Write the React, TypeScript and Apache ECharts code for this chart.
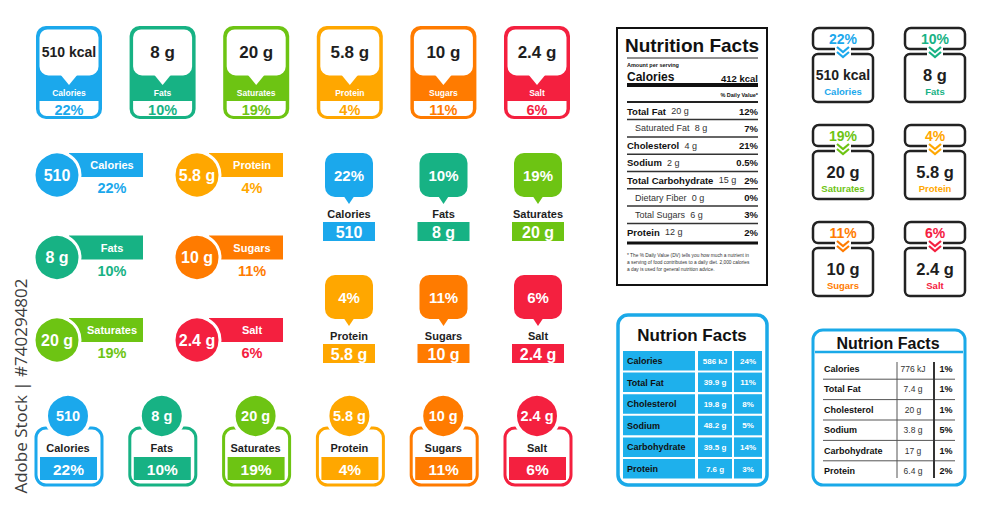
import React, { useEffect, useRef } from "react";
import * as echarts from "echarts";

const NUTRIENTS = ["Calories", "Fats", "Saturates", "Protein", "Sugars", "Salt"];
const AMOUNTS = ["510 kcal", "8 g", "20 g", "5.8 g", "10 g", "2.4 g"];
const SHORT_AMOUNTS = ["510", "8 g", "20 g", "5.8 g", "10 g", "2.4 g"];
const PERCENTS = ["22%", "10%", "19%", "4%", "11%", "6%"];
const PALETTE = ["#1ba8ec", "#17b284", "#6dc413", "#ffa700", "#ff7b00", "#f4203f"];

const NF_TITLE = "Nutrition Facts";
const NF_SERVING = "Amount per serving";
const NF_CAL_LABEL = "Calories";
const NF_CALORIES = "412 kcal";
const NF_DV_HEAD = "% Daily Value*";
const NF_NAMES = ["Total Fat", "Saturated Fat", "Cholesterol", "Sodium", "Total Carbohydrate", "Dietary Fiber", "Total Sugars", "Protein"];
const NF_AMOUNTS = ["20 g", "8 g", "4 g", "2 g", "15 g", "0 g", "6 g", "12 g"];
const NF_DV = ["12%", "7%", "21%", "0.5%", "2%", "0%", "3%", "2%"];
const NF_SUB = [false, true, false, false, false, true, true, false];
const NF_NOTE = [
  "* The % Daily Value (DV) tells you how much a nutrient in",
  "a serving of food contributes to a daily diet. 2,000 calories",
  "a day is used for general nutrition advice.",
];

const TABLE_TITLE = "Nutrion Facts";
const TABLE_NAMES = ["Calories", "Total Fat", "Cholesterol", "Sodium", "Carbohydrate", "Protein"];
const BLUE_AMOUNTS = ["586 kJ", "39.9 g", "19.8 g", "48.2 g", "39.5 g", "7.6 g"];
const BLUE_DV = ["24%", "11%", "8%", "5%", "14%", "3%"];
const LINED_AMOUNTS = ["776 kJ", "7.4 g", "20 g", "3.8 g", "17 g", "6.4 g"];
const LINED_DV = ["1%", "1%", "1%", "5%", "1%", "2%"];

const WATERMARK = "Adobe Stock | #740294802";

const FONT = '"Liberation Sans", Arial, Helvetica, sans-serif';
const DARK = "#1e1e1e";
const BLUE = "#1aa9e8";
const WHITE = "#ffffff";

function T(x: number, y: number, text: string, size: number, fill: string, opts: any = {}) {
  const align = opts.align || "center";
  const style: any = {
    text,
    fill,
    fontSize: size,
    fontWeight: opts.weight || "bold",
    fontFamily: opts.family || FONT,
    align,
    textAlign: align,
    verticalAlign: "middle",
    textVerticalAlign: "middle",
  };
  if (opts.lineHeight) style.lineHeight = opts.lineHeight;
  if (opts.rich) style.rich = opts.rich;
  return { type: "text", x, y, silent: true, rotation: opts.rotation || 0, z: 10, style };
}

function R(x: number, y: number, w: number, h: number, fill: string | null, r: any = 0, stroke?: string, lw?: number) {
  const style: any = { fill: fill === null ? "none" : fill };
  if (stroke) {
    style.stroke = stroke;
    style.lineWidth = lw || 1;
  }
  return { type: "rect", silent: true, z: 1, shape: { x, y, width: w, height: h, r }, style };
}

function C(cx: number, cy: number, r: number, fill: string, stroke?: string, lw?: number) {
  const style: any = { fill };
  if (stroke) {
    style.stroke = stroke;
    style.lineWidth = lw || 1;
  }
  return { type: "circle", silent: true, z: 1, shape: { cx, cy, r }, style };
}

function L(x1: number, y1: number, x2: number, y2: number, stroke: string, lw: number) {
  return { type: "line", silent: true, z: 2, shape: { x1, y1, x2, y2 }, style: { stroke, lineWidth: lw } };
}

function P(points: number[][], fill: string) {
  return { type: "polygon", silent: true, z: 1, shape: { points }, style: { fill } };
}

function PL(points: number[][], stroke: string, lw: number) {
  return { type: "polyline", silent: true, z: 3, shape: { points }, style: { stroke, lineWidth: lw, fill: "none" } };
}

function buildElements() {
  const els: any[] = [];

  // Top row: label cards
  NUTRIENTS.forEach((name, i) => {
    const col = PALETTE[i];
    const x0 = 36 + i * 93.6;
    const cx = x0 + 33;
    els.push(R(x0, 26, 66, 93, col, 10));
    els.push(R(x0 + 3.5, 29.5, 59, 46, WHITE, [8, 8, 9, 9]));
    els.push(P([[cx - 9, 74], [cx + 9, 74], [cx, 85]], WHITE));
    els.push(T(cx, 52, AMOUNTS[i], AMOUNTS[i].length > 6 ? 14 : 17, DARK));
    els.push(T(cx, 93, name, 8.5, WHITE));
    els.push(R(x0 + 3.5, 101, 59, 15, WHITE, [0, 0, 7, 7]));
    els.push(T(cx, 109.5, PERCENTS[i], 14.5, col));
  });

  // Middle left: circles with banners
  NUTRIENTS.forEach((name, i) => {
    const col = PALETTE[i];
    const c = Math.floor(i / 3);
    const r = i % 3;
    const cx = 57 + c * 140;
    const cy = 175 + r * 82.5;
    els.push(R(cx + 12, cy - 22, 74, 24, col));
    els.push(C(cx, cy, 23, col, WHITE, 3));
    els.push(T(cx, cy, SHORT_AMOUNTS[i], 16, WHITE));
    els.push(T(cx + 55, cy - 10, name, 11, WHITE));
    els.push(T(cx + 55, cy + 13, PERCENTS[i], 14.5, col));
  });

  // Middle: speech bubbles
  NUTRIENTS.forEach((name, i) => {
    const col = PALETTE[i];
    const c = i % 3;
    const r = Math.floor(i / 3);
    const cx = 349 + c * 94.5;
    const top = 153 + r * 122;
    els.push(R(cx - 24, top, 48, 44, col, 10));
    els.push(P([[cx - 6, top + 42], [cx + 6, top + 42], [cx, top + 51]], col));
    els.push(T(cx, top + 22, PERCENTS[i], 15, WHITE));
    els.push(T(cx, top + 61, name, 11, DARK));
    els.push(R(cx - 26, top + 69, 52, 19, col));
    els.push(T(cx, top + 79, SHORT_AMOUNTS[i], 16, WHITE));
  });

  // Bottom row: circle over frame
  NUTRIENTS.forEach((name, i) => {
    const col = PALETTE[i];
    const cx = 68 + i * 93.8;
    els.push(R(cx - 32, 428, 66, 57, WHITE, 10, col, 3));
    els.push(C(cx, 416, 22, col, WHITE, 4));
    els.push(T(cx, 416, SHORT_AMOUNTS[i], 14.5, WHITE));
    els.push(T(cx, 448, name, 11, DARK));
    els.push(R(cx - 28, 457, 57, 23, col));
    els.push(T(cx + 0.5, 469, PERCENTS[i], 15.5, WHITE));
  });

  // Nutrition Facts (black)
  els.push(R(617, 28, 150, 257, WHITE, 0, "#111", 2));
  els.push(T(692, 45, NF_TITLE, 19, "#111", { weight: 900 }));
  els.push(L(627, 58, 758, 58, "#222", 1));
  els.push(T(627, 65, NF_SERVING, 5.5, "#111", { align: "left" }));
  els.push(T(627, 77, NF_CAL_LABEL, 12, "#111", { align: "left" }));
  els.push(T(758, 78, NF_CALORIES, 9.5, "#111", { align: "right" }));
  els.push(L(627, 85, 758, 85, "#111", 4));
  els.push(T(758, 95, NF_DV_HEAD, 5.5, "#111", { align: "right" }));
  els.push(L(627, 102, 758, 102, "#222", 2));
  NF_NAMES.forEach((name, k) => {
    const y = 111 + k * 17.3;
    const sub = NF_SUB[k];
    els.push(
      T(sub ? 635 : 627, y, `{${sub ? "s" : "b"}|${name}}  {n|${NF_AMOUNTS[k]}}`, 9.5, "#111", {
        align: "left",
        rich: {
          b: { fontWeight: "bold", fontSize: 9.5, fontFamily: FONT, fill: "#111" },
          s: { fontWeight: "normal", fontSize: 9, fontFamily: FONT, fill: "#333" },
          n: { fontWeight: "normal", fontSize: 9, fontFamily: FONT, fill: "#333" },
        },
      })
    );
    els.push(T(758, y, NF_DV[k], 9.5, "#111", { align: "right" }));
    if (k < NF_NAMES.length - 1) els.push(L(627, y + 8.6, 758, y + 8.6, "#333", 1.5));
  });
  els.push(L(627, 243, 758, 243, "#111", 3));
  NF_NOTE.forEach((line, k) => {
    els.push(T(627, 255 + k * 7, line, 4.8, "#333", { align: "left", weight: "normal" }));
  });

  // Right grid cards
  NUTRIENTS.forEach((name, i) => {
    const col = PALETTE[i];
    const c = i % 2;
    const r = Math.floor(i / 2);
    const x0 = 813 + c * 92;
    const y0 = 28 + r * 97;
    const cx = x0 + 30;
    els.push(R(x0, y0, 60, 21, WHITE, [6, 6, 5, 5], "#222", 2.5));
    els.push(R(x0, y0 + 26, 60, 48, WHITE, 5, "#222", 2.5));
    els.push({ ...R(cx - 8, y0 + 17, 16, 13, WHITE), z: 2 });
    els.push(PL([[cx - 6, y0 + 19], [cx, y0 + 24], [cx + 6, y0 + 19]], col, 2.2));
    els.push(PL([[cx - 6, y0 + 24], [cx, y0 + 29], [cx + 6, y0 + 24]], col, 2.2));
    els.push(T(cx, y0 + 10.5, PERCENTS[i], 14, col));
    els.push(T(cx, y0 + 47, AMOUNTS[i], AMOUNTS[i].length > 6 ? 14 : 16.5, DARK));
    els.push(T(cx, y0 + 63, name, 9.5, col));
  });

  // Blue Nutrition Facts table
  els.push(R(618, 315, 149, 170, WHITE, 10, BLUE, 3.5));
  els.push(T(692, 335, TABLE_TITLE, 17, "#111", { weight: 900 }));
  TABLE_NAMES.forEach((name, k) => {
    const y = 351 + k * 21.6;
    const cellFill = "#1eb0ec";
    els.push(R(623, y, 72, 19.5, cellFill));
    els.push(R(698, y, 34, 19.5, cellFill));
    els.push(R(734, y, 28, 19.5, cellFill));
    els.push(T(627, y + 10, name, 9, "#111", { align: "left" }));
    els.push(T(715, y + 10, BLUE_AMOUNTS[k], 8, WHITE));
    els.push(T(748, y + 10, BLUE_DV[k], 8, WHITE));
  });

  // Lined Nutrition Facts table
  els.push(R(813, 330, 152, 155, WHITE, 10, BLUE, 3));
  els.push(T(888, 343, TABLE_TITLE, 16, "#111", { weight: 900 }));
  els.push(L(815, 352, 963, 352, BLUE, 2.5));
  TABLE_NAMES.forEach((name, k) => {
    const y = 369 + k * 20.4;
    els.push(T(824, y, name, 9, "#111", { align: "left" }));
    els.push(T(913, y, LINED_AMOUNTS[k], 8.5, "#333", { weight: "normal" }));
    els.push(T(946, y, LINED_DV[k], 9, "#111"));
    if (k < TABLE_NAMES.length - 1) els.push(L(823, y + 10.2, 955, y + 10.2, "#555", 1));
  });
  els.push(L(897, 362, 897, 478, "#555", 1));
  els.push(L(934, 362, 934, 478, "#333", 2));

  // Vertical watermark
  els.push(T(20, 386, WATERMARK, 17, "#3c3c3c", { weight: "normal", family: '"Open Sans", "DejaVu Sans", sans-serif', rotation: Math.PI / 2 }));

  return els;
}

export default function App() {
  const ref = useRef<HTMLDivElement>(null);
  useEffect(() => {
    if (!ref.current) return;
    const chart = echarts.init(ref.current, undefined, { renderer: "svg" });
    chart.setOption({
      animation: false,
      backgroundColor: "#ffffff",
      graphic: { elements: buildElements() },
    });
    return () => chart.dispose();
  }, []);
  return (
    <div
      ref={ref}
      style={{ position: "fixed", left: 0, top: 0, width: 1000, height: 513, background: "#fff" }}
    />
  );
}
